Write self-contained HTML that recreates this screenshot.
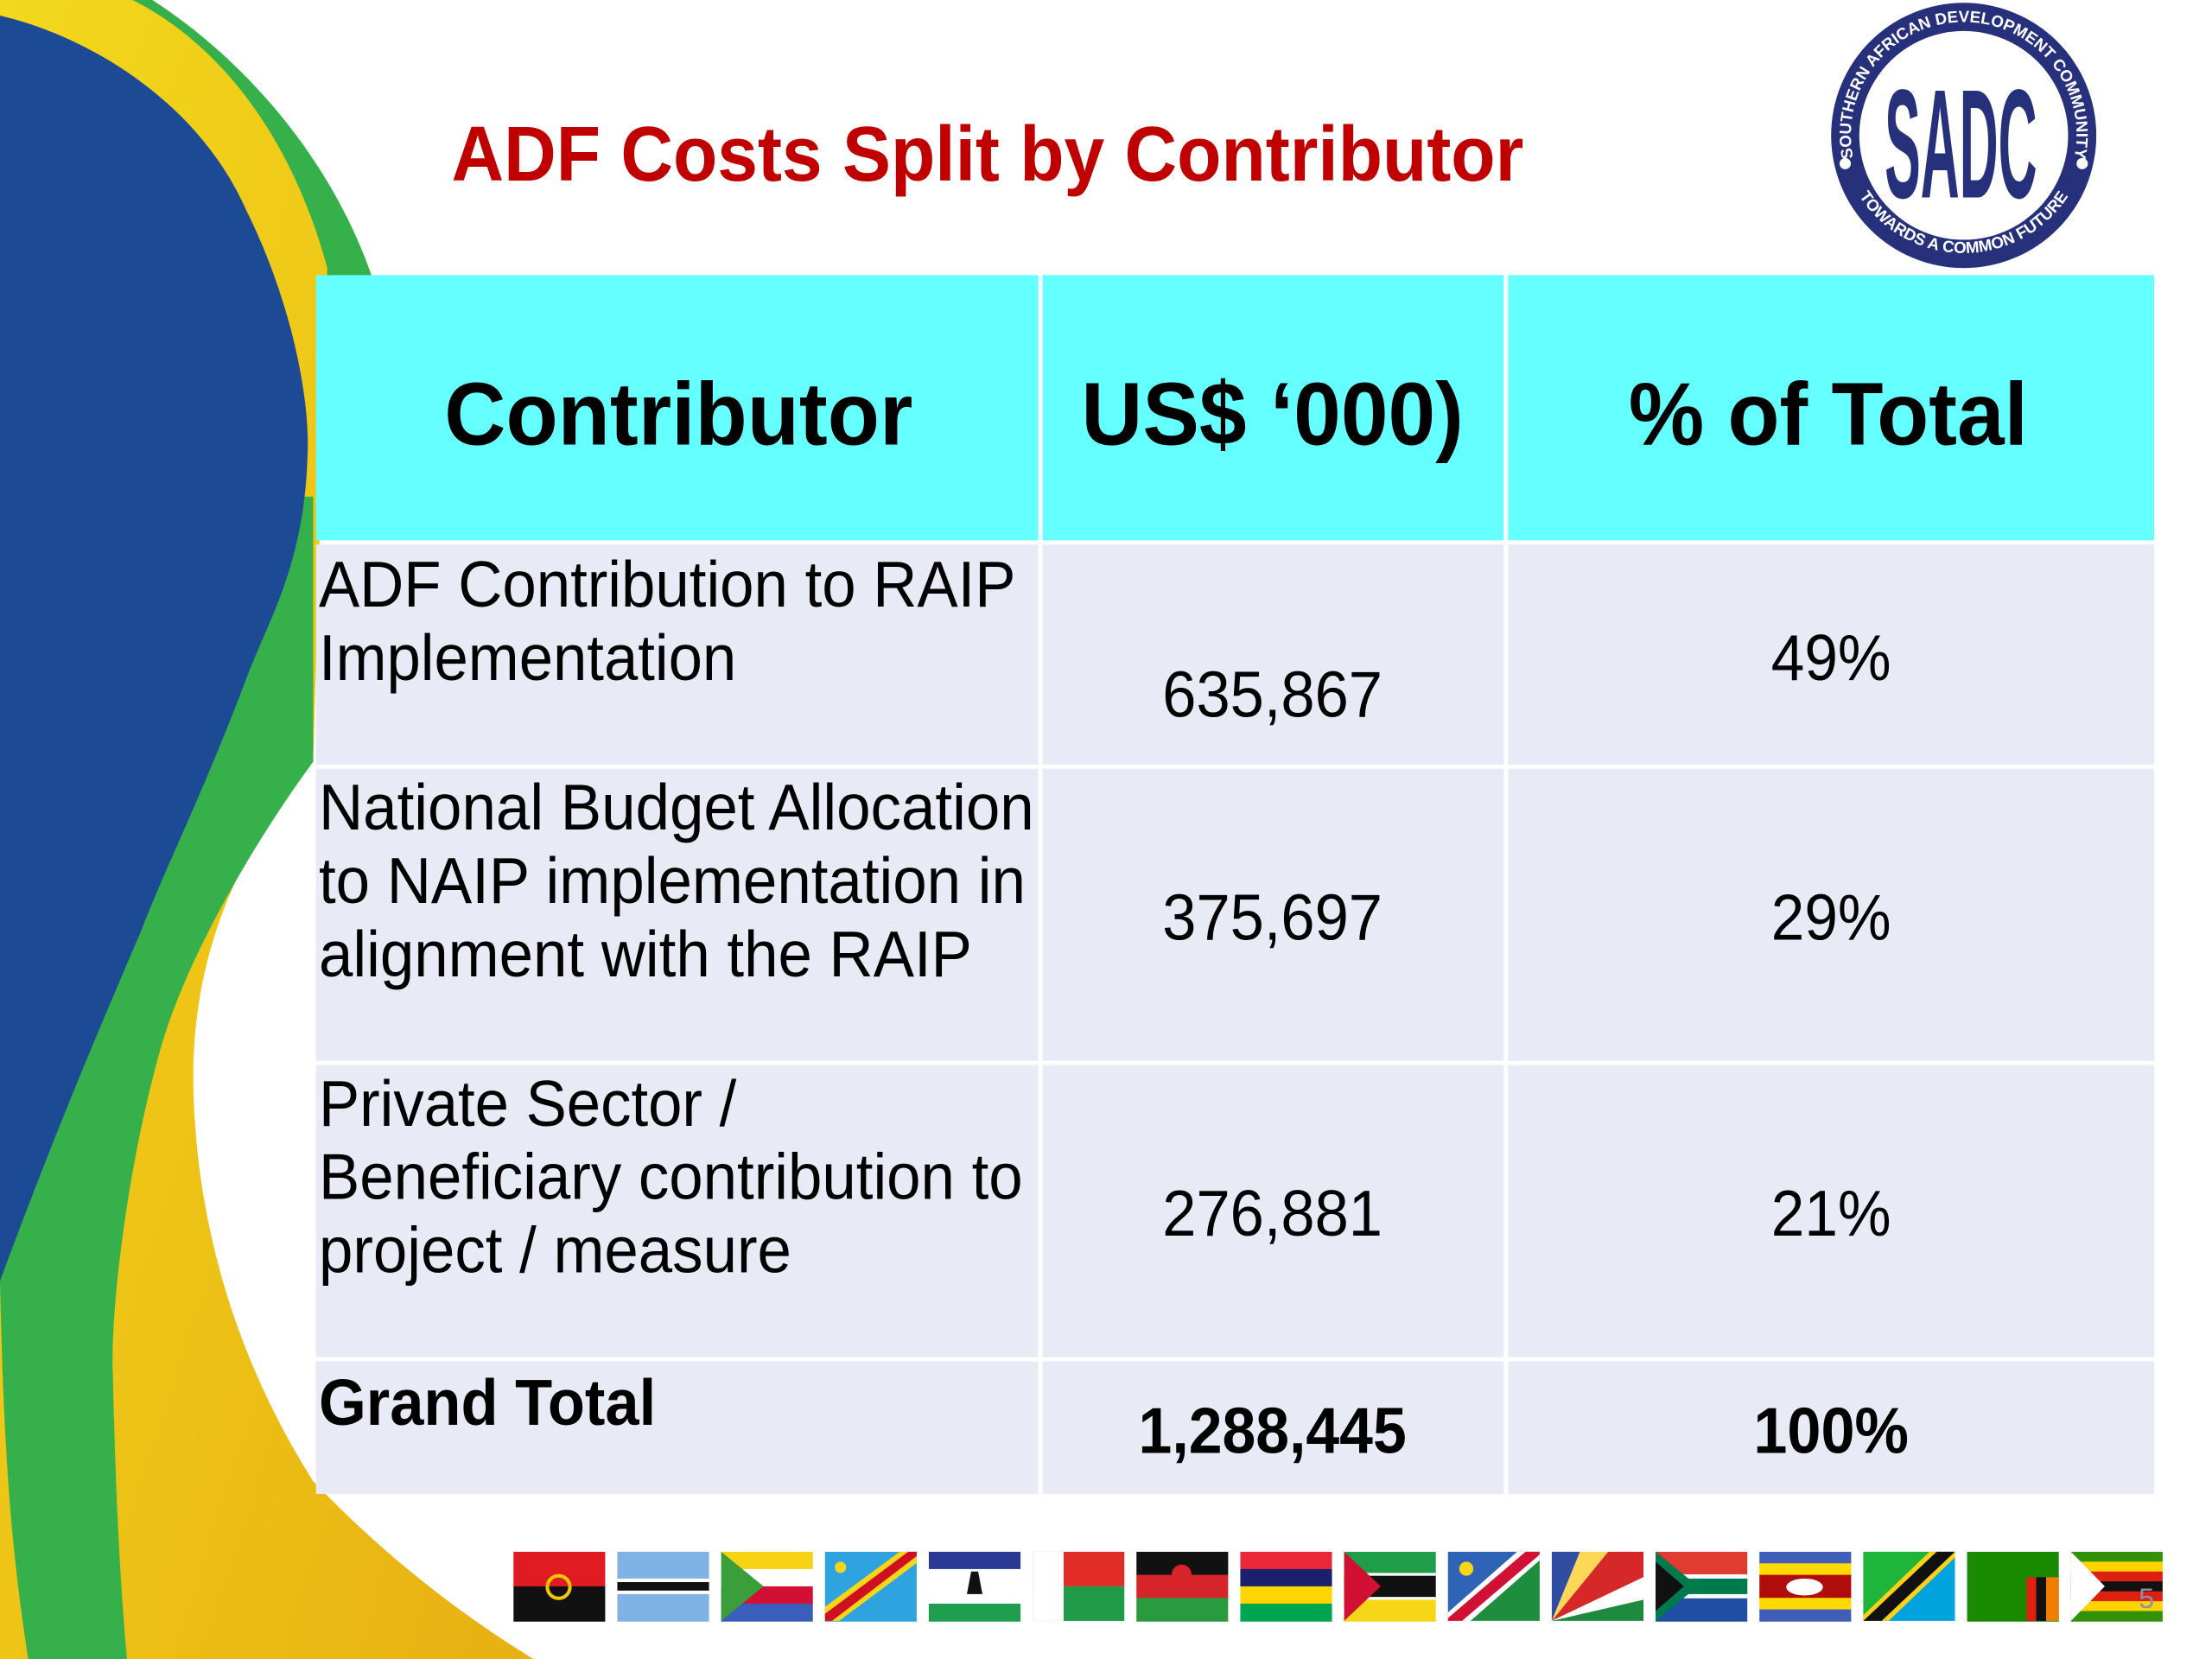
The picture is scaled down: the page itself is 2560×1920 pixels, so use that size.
<!DOCTYPE html>
<html><head><meta charset="utf-8">
<style>
html,body{margin:0;padding:0;background:#fff;}
svg{display:block;}
text{font-family:"Liberation Sans",Arial,sans-serif;}
</style></head>
<body>
<svg id="slide" width="2560" height="1920" viewBox="0 0 1568 1176" preserveAspectRatio="none" xmlns="http://www.w3.org/2000/svg">
  <defs>
    <linearGradient id="yg" x1="0" y1="0" x2="1" y2="1">
      <stop offset="0" stop-color="#f3d81c"/>
      <stop offset="1" stop-color="#e8b012"/>
    </linearGradient>
  </defs>
  <rect width="1568" height="1176" fill="#ffffff"/>
  <g>
    <path d="M88,0 L108,0 C170,40 235,110 265,200 L222,200 L222,400 L0,400 Z" fill="#35b04a"/>
    <path d="M0,0 L94,0 C150,28 205,90 232,190 L222,540 C180,590 138,660 137,760 C137,860 165,960 222,1050 C270,1100 320,1140 378,1176 L0,1176 Z" fill="url(#yg)"/>
    <path d="M150,352 L222,352 L222,540 C185,590 130,680 112,750 C90,830 78,930 80,975 C82,1060 85,1120 90,1176 L20,1176 C10,1110 3,1050 0,908 L0,352 Z" fill="#35b04a"/>
    <path d="M0,11 C60,25 140,70 175,150 C205,210 220,280 218,322 C216,400 190,440 175,480 C145,560 115,620 100,660 C70,730 40,800 0,908 Z" fill="#1d4a94"/>
  </g>

  <text x="320" y="128" font-size="55" font-weight="bold" fill="#c00000" textLength="760" lengthAdjust="spacingAndGlyphs">ADF Costs Split by Contributor</text>

  <g>
    <defs>
      <path id="arcTop" d="M1318,126 A80,80 0 1 1 1466,126"/>
      <path id="arcBot" d="M1315,134 A88,88 0 0 0 1469,134"/>
    </defs>
    <circle cx="1392" cy="96" r="94" fill="#27307a"/>
    <circle cx="1392" cy="96" r="74" fill="#ffffff"/>
    <text font-size="11.5" font-weight="bold" fill="#ffffff"><textPath href="#arcTop" startOffset="50%" text-anchor="middle">SOUTHERN AFRICAN DEVELOPMENT COMMUNITY</textPath></text>
    <text font-size="11.5" font-weight="bold" fill="#ffffff"><textPath href="#arcBot" startOffset="50%" text-anchor="middle">TOWARDS A COMMON FUTURE</textPath></text>
    <circle cx="1308" cy="116" r="4" fill="#fff"/>
    <circle cx="1476" cy="116" r="4" fill="#fff"/>
    <text x="1390" y="140" font-size="110" font-weight="bold" fill="#27307a" text-anchor="middle" textLength="108" lengthAdjust="spacingAndGlyphs" font-family="Liberation Serif">SADC</text>
  </g>

  <g id="table"></g>
  <g id="flags"></g>
  <text x="1516" y="1140" font-size="20" fill="#8a8fb0">5</text>
</svg>
<script>
const contributorLines = [
  ["ADF Contribution to RAIP", "Implementation"],
  ["National Budget Allocation", "to NAIP implementation in", "alignment with the RAIP"],
  ["Private Sector /", "Beneficiary contribution to", "project / measure"]
];
const amounts = ["635,867", "375,697", "276,881"];
const percents = ["49%", "29%", "21%"];
const totalAmount = "1,288,445";
const totalPercent = "100%";
const headers = ["Contributor", "US$ \u2018000)", "% of Total"];

const NS = "http://www.w3.org/2000/svg";
const tbl = document.getElementById('table');
function el(tag, attrs, parent){
  const e = document.createElementNS(NS, tag);
  for (const k in attrs) e.setAttribute(k, attrs[k]);
  parent.appendChild(e);
  return e;
}
const colX = [224, 739, 1069], colW = [512, 327, 458];
const rowY = [195, 386, 545, 755, 965], rowH = [188, 156, 207, 207, 94];
const lineW = [[494,296],[507,501,463],[296,499,335]];
const lineBase = [[430,482],[588,640,692],[798,850,902]];
const valBase = [508, 666, 876];
const pctBase = [482, 666, 876];

for (let r = 0; r < 5; r++) {
  for (let c = 0; c < 3; c++) {
    const rc = el('rect', {x: colX[c], y: rowY[r], width: colW[c], height: rowH[r], fill: r === 0 ? '#66ffff' : '#e8eaf6'}, tbl);
    
    
  }
}
const hW = [332, 271, 283], hC = [481, 902, 1296];
headers.forEach((h, i) => {
  const t = el('text', {x: hC[i], y: 315, 'font-size': 63, 'font-weight': 'bold', 'text-anchor': 'middle', fill: '#000', textLength: hW[i], lengthAdjust: 'spacingAndGlyphs'}, tbl);
  t.textContent = h;
  
  
});
contributorLines.forEach((lines, r) => {
  lines.forEach((ln, j) => {
    const t = el('text', {x: 226, y: lineBase[r][j], 'font-size': 46, fill: '#000', textLength: lineW[r][j], lengthAdjust: 'spacingAndGlyphs'}, tbl);
    t.textContent = ln;
    
    
  });
  const a = el('text', {x: 902, y: valBase[r], 'font-size': 46, 'text-anchor': 'middle', fill: '#000', textLength: 156, lengthAdjust: 'spacingAndGlyphs'}, tbl);
  a.textContent = amounts[r];
  
  
  const p = el('text', {x: 1298, y: pctBase[r], 'font-size': 46, 'text-anchor': 'middle', fill: '#000', textLength: 85, lengthAdjust: 'spacingAndGlyphs'}, tbl);
  p.textContent = percents[r];
  
  
});
const gt = el('text', {x: 226, y: 1010, 'font-size': 46, 'font-weight': 'bold', fill: '#000', textLength: 239, lengthAdjust: 'spacingAndGlyphs'}, tbl);
gt.textContent = "Grand Total";


const ga = el('text', {x: 902, y: 1030, 'font-size': 46, 'font-weight': 'bold', 'text-anchor': 'middle', fill: '#000', textLength: 190, lengthAdjust: 'spacingAndGlyphs'}, tbl);
ga.textContent = totalAmount;


const gp = el('text', {x: 1298, y: 1030, 'font-size': 46, 'font-weight': 'bold', 'text-anchor': 'middle', fill: '#000', textLength: 110, lengthAdjust: 'spacingAndGlyphs'}, tbl);
gp.textContent = totalPercent;



const flagNames = ["angola","botswana","comoros","drc","lesotho","madagascar","malawi","mauritius","mozambique","namibia","seychelles","south-africa","eswatini","tanzania","zambia","zimbabwe"];
const fg = document.getElementById('flags');
const FW = 65, FH = 49, FY = 1100;
flagNames.forEach((n, i) => {
  const x0 = 364 + i * 73.6;
  const g = el('g', {transform: `translate(${x0},${FY})`}, fg);
  
  
  const R = (x,y,w,h,f) => el('rect', {x, y, width: w, height: h, fill: f}, g);
  const P = (d,f) => el('path', {d, fill: f}, g);
  const hs = (cols) => { const h = FH / cols.length; cols.forEach((c,k) => R(0, k*h, FW, h + 0.5, c)); };
  switch (n) {
    case "angola": hs(["#e11b22","#111"]); el('circle',{cx:32,cy:25,r:8,fill:'none',stroke:'#f5c400','stroke-width':2.5},g); break;
    case "botswana": hs(["#7fb2e5"]); R(0,19,FW,11,'#fff'); R(0,21.5,FW,6,'#111'); break;
    case "comoros": hs(["#f5d312","#ffffff","#d21034","#3a5eb9"]); P(`M0,0 L30,${FH/2} L0,${FH} Z`,'#3a9e3a'); break;
    case "drc": hs(["#2fa3e0"]); P(`M0,${FH} L0,${FH-10} L${FW-12},0 L${FW},0 L${FW},8 L10,${FH} Z`,'#f7d618'); P(`M0,${FH} L0,${FH-5} L${FW-6},0 L${FW},0 L${FW},3 L5,${FH} Z`,'#ce1021'); el('circle',{cx:11,cy:11,r:4,fill:'#f7d618'},g); break;
    case "lesotho": hs(["#2a3a94","#ffffff","#ffffff","#1f9e4f"]); P('M30,14 L35,14 L38,30 L27,30 Z','#111'); break;
    case "madagascar": R(0,0,FW,FH/2,'#e22d26'); R(0,FH/2,FW,FH/2,'#1f9a48'); R(0,0,22,FH,'#fff'); break;
    case "malawi": hs(["#111","#d6242a","#2a9a3e"]); el('circle',{cx:32,cy:16,r:7,fill:'#d6242a'},g); break;
    case "mauritius": hs(["#ea2839","#1a206d","#ffd500","#00a551"]); break;
    case "mozambique": hs(["#1f9e4a","#111","#f7d618"]); R(0,15,FW,2,'#fff'); R(0,32,FW,2,'#fff'); P(`M0,0 L26,${FH/2} L0,${FH} Z`,'#d21034'); break;
    case "namibia": P(`M0,0 L${FW},0 L0,${FH} Z`,'#2f63b5'); P(`M${FW},0 L${FW},${FH} L0,${FH} Z`,'#1e8e3e'); P(`M${FW-16},0 L${FW},0 L${FW},6 L16,${FH} L0,${FH} L0,${FH-6} Z`,'#fff'); P(`M${FW-10},0 L${FW},0 L${FW},2 L10,${FH} L0,${FH} L0,${FH-2} Z`,'#d21034'); el('circle',{cx:13,cy:12,r:5,fill:'#f7d618'},g); break;
    case "seychelles": P(`M0,${FH} L0,0 L20,0 Z`,'#2f4ea3'); P(`M0,${FH} L20,0 L40,0 Z`,'#fcd856'); P(`M0,${FH} L40,0 L${FW},0 L${FW},18 Z`,'#d62828'); P(`M0,${FH} L${FW},18 L${FW},34 Z`,'#fff'); P(`M0,${FH} L${FW},34 L${FW},${FH} Z`,'#1e8a3e'); break;
    case "south-africa": hs(["#e03c31","#1f4ea3"]); R(0,16,FW,17,'#fff'); R(0,19,FW,11,'#007a4d'); P(`M0,0 L30,${FH/2} L0,${FH} Z`,'#007a4d'); P(`M0,7 L20,${FH/2} L0,${FH-7} Z`,'#111'); break;
    case "eswatini": hs(["#3e5eb9","#ffd900","#b10c0c","#b10c0c","#ffd900","#3e5eb9"]); el('ellipse',{cx:32,cy:25,rx:13,ry:6,fill:'#fff'},g); break;
    case "tanzania": P(`M0,0 L${FW},0 L0,${FH} Z`,'#1eb53a'); P(`M${FW},0 L${FW},${FH} L0,${FH} Z`,'#00a3dd'); P(`M${FW-18},0 L${FW},0 L${FW},4 L18,${FH} L0,${FH} L0,${FH-4} Z`,'#fcd116'); P(`M${FW-13},0 L${FW},0 L13,${FH} L0,${FH} Z`,'#111'); break;
    case "zambia": hs(["#198a00"]); R(42,18,7,31,'#de2010'); R(49,18,7,31,'#111'); R(56,18,9,31,'#ef7d00'); break;
    case "zimbabwe": hs(["#319208","#ffd200","#de2010","#111","#de2010","#ffd200","#319208"]); P(`M0,0 L24,${FH/2} L0,${FH} Z`,'#fff'); break;
  }
});
</script>
</body></html>
